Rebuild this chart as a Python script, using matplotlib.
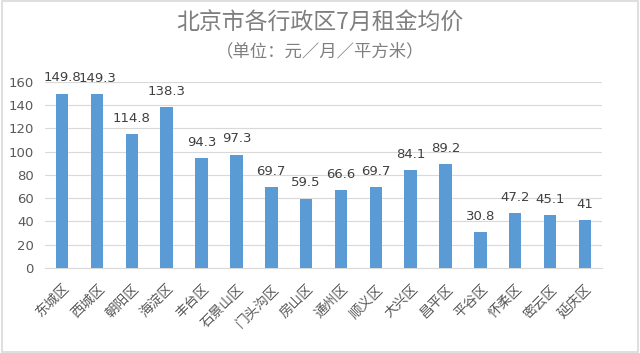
import numpy as np
from matplotlib import pyplot as plt
from matplotlib.patches import Rectangle

plt.rcParams['font.family'] = ['Noto Sans CJK SC', 'DejaVu Sans']

# district names and average July rent (yuan / month / m2)
districts = ['东城区', '西城区', '朝阳区', '海淀区', '丰台区', '石景山区', '门头沟区', '房山区',
             '通州区', '顺义区', '大兴区', '昌平区', '平谷区', '怀柔区', '密云区', '延庆区']
rents = [149.8, 149.3, 114.8, 138.3, 94.3, 97.3, 69.7, 59.5,
         66.6, 69.7, 84.1, 89.2, 30.8, 47.2, 45.1, 41]
yticks = [0, 20, 40, 60, 80, 100, 120, 140, 160]

grey = '#595959'

fig = plt.figure(figsize=(6.4, 3.53), dpi=100)
# light frame around the picture
fig.patches.append(Rectangle((0.003, 0.004), 0.994, 0.992, transform=fig.transFigure,
                             fill=False, edgecolor='#d9d9d9', lw=1.2))

ax = fig.add_axes([0.07, 0.241, 0.871, 0.527])
x = np.arange(len(districts))
bars = ax.bar(x, rents, width=0.36, color='#5B9BD5', zorder=3)

for xi, v in zip(x, rents):
    label = ('%g' % v)
    ax.text(xi, v + 8, label, ha='center', va='bottom', fontsize=9.5, color='#404040',
            family='DejaVu Sans')

ax.set_xlim(-0.5, len(districts) - 0.5)
ax.set_ylim(0, 160)
ax.set_yticks(yticks)
ax.yaxis.grid(True, color='#d9d9d9', lw=0.8, zorder=0)
for s in ['top', 'right', 'left']:
    ax.spines[s].set_visible(False)
ax.spines['bottom'].set_color('#d9d9d9')
ax.tick_params(axis='y', length=0, colors=grey, labelsize=9.5, pad=8)
ax.tick_params(axis='x', length=0, colors=grey, labelsize=9.8, pad=10)
ax.set_xticks(x)
ax.set_xticklabels(districts, rotation=45, ha='right', rotation_mode='anchor')
for lab in ax.get_yticklabels():
    lab.set_family('DejaVu Sans')

fig.text(0.5, 0.935, '北京市各行政区7月租金均价', ha='center', va='center',
         fontsize=16.5, color='#7f7f7f')
fig.text(0.5, 0.855, '（单位：元／月／平方米）', ha='center', va='center',
         fontsize=12.5, color='#7f7f7f')

plt.savefig('out.png', dpi=100)
